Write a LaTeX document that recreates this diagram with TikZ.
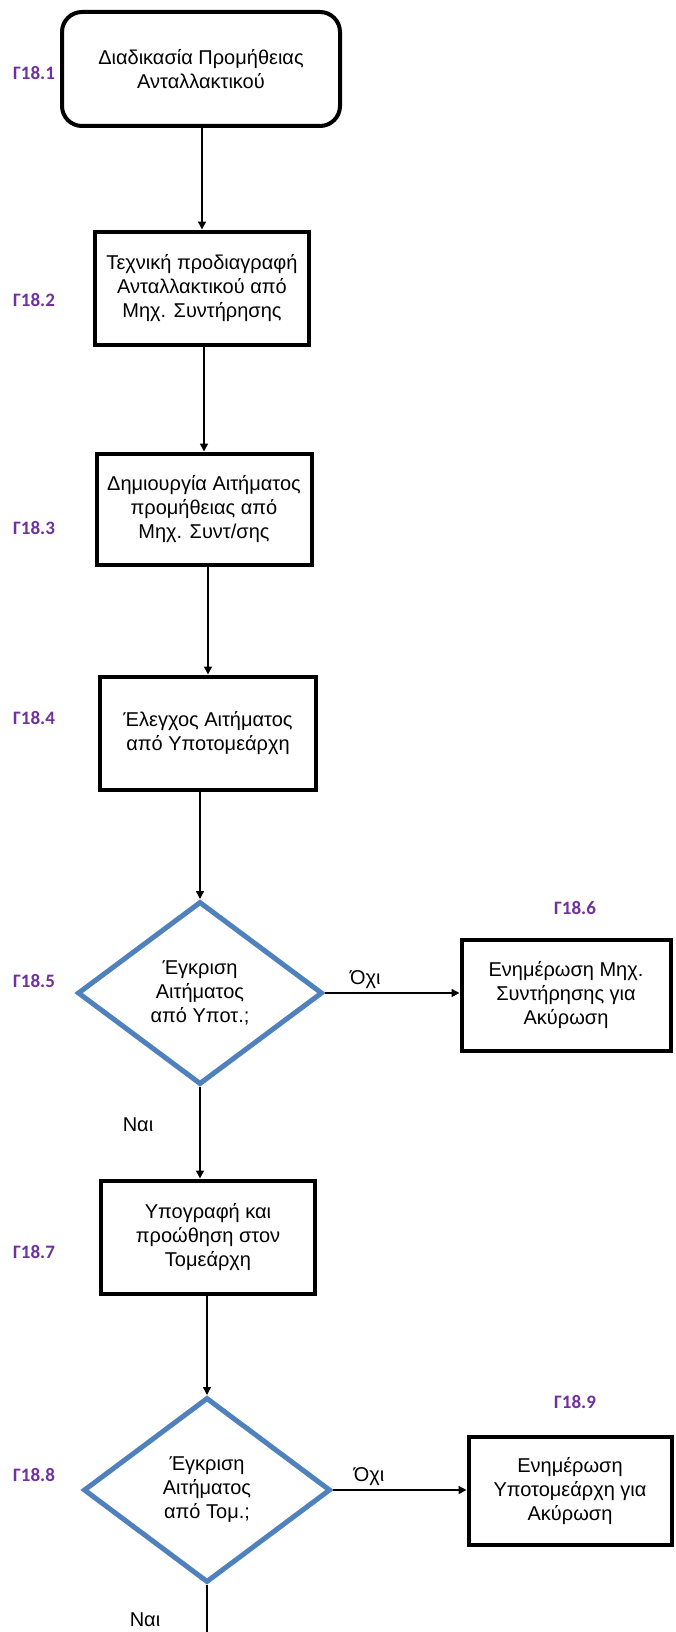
\documentclass[tikz,border=0pt]{standalone}
\usepackage{fontspec}
\setmainfont{Liberation Sans}
\newfontfamily\codefont{Carlito}
\usetikzlibrary{shapes.geometric, arrows.meta}
\definecolor{codepurple}{HTML}{7030A0}
\definecolor{dblue}{HTML}{4F81BD}
\tikzset{
    txt/.style={font=\fontsize{20}{24}\selectfont, align=center},
    proc/.style={txt, draw, line width=4pt, inner sep=2pt},
    startbox/.style={proc, rounded corners=20pt},
    decision/.style={txt, shape=diamond, draw=dblue, line width=5pt, inner sep=0pt},
    code/.style={font=\codefont\bfseries\fontsize{19}{22}\selectfont, text=codepurple},
    flow/.style={line width=1.5pt, -{Triangle[length=8pt,width=8pt]}}
}

\begin{document}
\begin{tikzpicture}[x=1pt, y=-1pt]
    \useasboundingbox (0,0) rectangle (675,1632);

    % steps
    \node[startbox, minimum width=278pt, minimum height=114pt] (start) at (201,69)
        {Διαδικασία Προμήθειας\\Ανταλλακτικού};
    \node[proc, minimum width=214pt, minimum height=113pt] (spec) at (202,288)
        {Τεχνική προδιαγραφή\\Ανταλλακτικού από\\Μηχ. Συντήρησης};
    \node[proc, minimum width=215pt, minimum height=111pt] (req) at (204,509)
        {Δημιουργία Αιτήματος\\προμήθειας από\\Μηχ. Συντ/σης};
    \node[proc, minimum width=216pt, minimum height=113pt] (chk) at (208,733)
        {Έλεγχος Αιτήματος\\από Υποτομεάρχη};
    \node[decision, minimum width=245pt, minimum height=183pt] (dec1) at (200,993)
        {Έγκριση\\Αιτήματος\\από Υποτ.;};
    \node[proc, minimum width=209pt, minimum height=111pt] (cancel1) at (566,995)
        {Ενημέρωση Μηχ.\\Συντήρησης για\\Ακύρωση};
    \node[proc, minimum width=214pt, minimum height=113pt] (sign) at (208,1237)
        {Υπογραφή και\\προώθηση στον\\Τομεάρχη};
    \node[decision, minimum width=247pt, minimum height=185pt] (dec2) at (207,1490)
        {Έγκριση\\Αιτήματος\\από Τομ.;};
    \node[proc, minimum width=203pt, minimum height=108pt] (cancel2) at (570,1491)
        {Ενημέρωση\\Υποτομεάρχη για\\Ακύρωση};
    \coordinate (cont) at (207,1632);

    % step codes
    \foreach \n/\x/\y in {1/34/73, 2/34/300, 3/34/528, 4/34/718, 5/34/981,
                          6/575/908, 7/34/1252, 8/34/1475, 9/575/1402} {
        \node[code] (g\n) at (\x,\y) {Γ18.\n};
    }

    % answers
    \node[txt] (yes1) at (138,1125) {Ναι};
    \node[txt] (yes2) at (145,1620) {Ναι};

    % connectors
    \draw[flow] (start.south -| spec.north) -- (spec.north);
    \draw[flow] (spec.south -| req.north) -- (req.north);
    \draw[flow] (req.south -| chk.north) -- (chk.north);
    \draw[flow] (chk.south -| dec1.north) -- (dec1.north);
    \draw[flow] (dec1.east) -- node[txt, pos=0.3, above] (no1) {Όχι} (dec1.east -| cancel1.west);
    \draw[flow] (dec1.south) -- (dec1.south |- sign.north);
    \draw[flow] (sign.south -| dec2.north) -- (dec2.north);
    \draw[flow] (dec2.east) -- node[txt, pos=0.27, above] (no2) {Όχι} (dec2.east -| cancel2.west);
    \draw[line width=1.5pt] (dec2.south) -- (cont);
\end{tikzpicture}
\end{document}
